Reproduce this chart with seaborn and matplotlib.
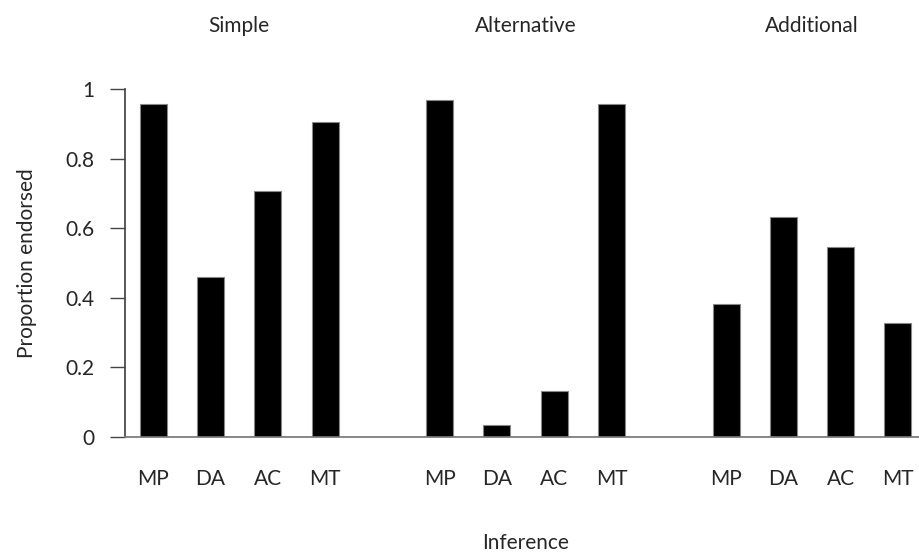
import pandas as pd
import seaborn as sns
import matplotlib.pyplot as plt

# data
conditions = ["Simple", "Alternative", "Additional"]
inferences = ["MP", "DA", "AC", "MT"]
simple = [0.958, 0.459, 0.708, 0.904]
alternative = [0.968, 0.034, 0.132, 0.958]
additional = [0.382, 0.632, 0.546, 0.328]

values = {"Simple": simple, "Alternative": alternative, "Additional": additional}

rows = []
for cond in conditions:
    for inf, v in zip(inferences, values[cond]):
        rows.append({"slot": cond + " " + inf, "inference": inf, "proportion": v})
df = pd.DataFrame(rows)

# slot order with an empty slot between each condition
order = []
for i, cond in enumerate(conditions):
    order += [cond + " " + inf for inf in inferences]
    if i < len(conditions) - 1:
        order.append("gap%d" % i)

sns.set_theme(style="white")
plt.rcParams["font.family"] = ["Lato", "DejaVu Sans"]
fs = 15

fig = plt.figure(figsize=(9.19, 5.53), dpi=100)
ax = fig.add_axes([124.6 / 919, 1 - 437 / 553, 802 / 919, 348 / 553])

sns.barplot(data=df, x="slot", y="proportion", order=order, color="black",
            width=0.47, edgecolor="#888888", linewidth=0.8, saturation=1, ax=ax)

ax.set_xlim(-0.5, len(order) - 0.5)
ax.set_ylim(0, 1)

# boundary ticks (major) and category labels (minor)
ax.set_xticks([i - 0.5 for i in range(len(order) + 1)])
ax.set_xticklabels([])
centers = [i for i, s in enumerate(order) if not s.startswith("gap")]
ax.set_xticks(centers, minor=True)
ax.set_xticklabels([order[i].split(" ")[1] for i in centers], minor=True, fontsize=fs)
ax.tick_params(axis="x", which="major", length=11, width=1, color="#666666", direction="out")
ax.tick_params(axis="x", which="minor", length=0, pad=23)

ax.set_yticks([0, 0.2, 0.4, 0.6, 0.8, 1])
ax.set_yticklabels(["0", "0.2", "0.4", "0.6", "0.8", "1"], fontsize=fs)
ax.tick_params(axis="y", length=11, width=1, color="#444444", direction="out", pad=11, left=True)

for side in ["top", "right"]:
    ax.spines[side].set_visible(False)
ax.spines["left"].set_color("#444444")
ax.spines["bottom"].set_color("#777777")

ax.set_ylabel("Proportion endorsed", fontsize=fs, labelpad=20)
ax.set_xlabel("Inference", fontsize=fs, labelpad=32)

# condition titles above each group
for i, cond in enumerate(conditions):
    ax.text(i * 5 + 1.5, 1.18, cond, ha="center", va="center", fontsize=fs,
            transform=ax.get_xaxis_transform())

fig.savefig("out.png", dpi=100)
